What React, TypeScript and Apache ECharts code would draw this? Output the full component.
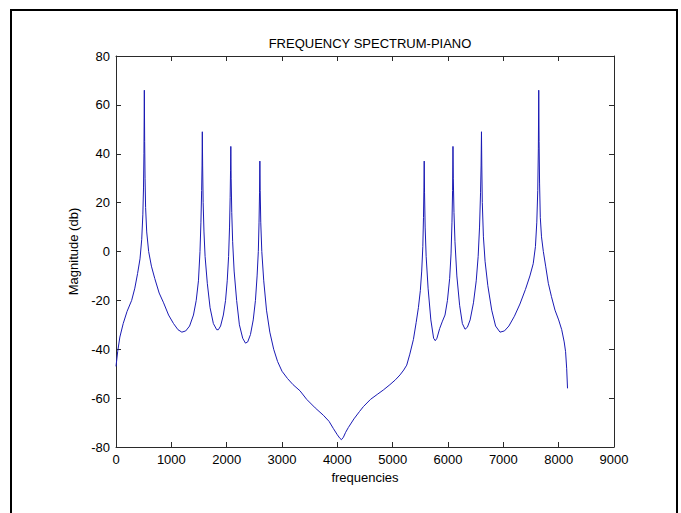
import React, { useEffect, useRef } from "react";
import * as echarts from "echarts";

const TITLE = "FREQUENCY SPECTRUM-PIANO";
const X_NAME = "frequencies";
const Y_NAME = "Magnitude (db)";

const frequencies: number[] = [
  0, 30, 70, 130, 200, 283, 340, 390, 434, 465, 485, 497, 505, 512, 518, 525, 535, 555, 590, 640,
  700, 780, 860, 950, 1040, 1120, 1190, 1260, 1330, 1400, 1450, 1490, 1518, 1535, 1548, 1555, 1560, 1566, 1575, 1590,
  1610, 1650, 1700, 1760, 1820, 1850, 1890, 1940, 1980, 2010, 2035, 2052, 2063, 2070, 2075, 2081, 2092, 2108, 2135, 2180,
  2230, 2290, 2340, 2380, 2430, 2480, 2520, 2550, 2572, 2585, 2594, 2600, 2606, 2616, 2635, 2670, 2720, 2780, 2850, 2920,
  3000, 3100, 3200, 3325, 3446, 3600, 3747, 3850, 3930, 4000, 4048, 4075, 4110, 4150, 4200, 4300, 4400, 4470, 4600, 4720,
  4830, 4950, 5050, 5133, 5200, 5254, 5310, 5375, 5425, 5465, 5500, 5525, 5545, 5557, 5565, 5570, 5576, 5587, 5605, 5640,
  5690, 5740, 5770, 5800, 5850, 5900, 5946, 5990, 6030, 6055, 6072, 6083, 6090, 6096, 6108, 6126, 6160, 6210, 6260, 6308,
  6350, 6400, 6460, 6510, 6545, 6570, 6588, 6598, 6605, 6611, 6620, 6640, 6670, 6720, 6790, 6860, 6940, 7020, 7100, 7200,
  7300, 7400, 7480, 7540, 7580, 7605, 7622, 7633, 7640, 7646, 7655, 7668, 7690, 7723, 7765, 7813, 7870, 7934, 8000, 8055,
  8100, 8125, 8145, 8160,
];

const magnitudes: number[] = [
  -47, -41, -35, -29.5, -24.5, -20, -15, -9, -3, 5, 15, 26, 40, 66, 45, 30, 18, 8, 0, -6,
  -11, -17, -21, -26, -29.5, -32, -33, -32.5, -30.5, -26, -20, -12, 0, 12, 25, 35, 49, 35, 20, 8,
  -2, -13, -23, -29.5, -32, -32, -30.5, -26, -20, -12, -2, 10, 22, 33, 43, 30, 16, 4, -8, -20,
  -30, -35.5, -37.5, -37, -34, -28, -20, -10, 0, 12, 24, 37, 25, 12, 0, -12, -24, -33, -40, -45,
  -49, -52, -54.5, -57, -60.5, -64, -67, -69.5, -72.5, -75, -76.5, -77, -76, -74, -72, -68.5, -65.5, -63.5, -60.5, -58.5,
  -56.7, -54.5, -52.5, -50.5, -48.5, -46.5, -42, -36, -29, -23, -16, -8, 2, 14, 26, 37, 24, 10, -2, -15,
  -28, -35.5, -36.5, -35.5, -31.5, -28.5, -26, -20, -11, -1, 12, 25, 43, 30, 16, 4, -10, -22, -29.5, -31.8,
  -31, -28, -21, -12, -2, 10, 24, 35, 49, 35, 20, 6, -4, -14, -24, -30.5, -33, -32.5, -30.5, -26.5,
  -21.5, -15.5, -10, -5, 2, 12, 25, 42, 66, 45, 28, 14, 6, 0, -6, -13, -18.5, -24, -28, -32,
  -37, -41, -48, -56,
];

const X_MIN = 0;
const X_MAX = 9000;
const X_STEP = 1000;
const Y_MIN = -80;
const Y_MAX = 80;
const Y_STEP = 20;

export default function App() {
  const ref = useRef<HTMLDivElement>(null);

  useEffect(() => {
    if (!ref.current) return;
    const chart = echarts.init(ref.current, undefined, { renderer: "svg" });
    const font = "'Liberation Sans', Arial, Helvetica, sans-serif";
    const axisColor = "#2a2a2a";
    const tick = { show: true, inside: true, length: 5, lineStyle: { color: axisColor, width: 1 } };
    const line = { show: true, onZero: false, lineStyle: { color: axisColor, width: 1 } };
    const label = { color: "#000", fontFamily: font, fontSize: 13 };
    const plain = (v: number) => String(v);

    chart.setOption({
      animation: false,
      backgroundColor: "#fff",
      title: {
        text: TITLE,
        left: 365,
        textAlign: "center",
        top: 32,
        textStyle: { fontFamily: font, fontSize: 13, fontWeight: "normal", color: "#000" },
      },
      graphic: [
        {
          type: "rect",
          shape: { x: 11, y: 10, width: 666, height: 520 },
          style: { fill: "none", stroke: "#000", lineWidth: 2 },
          silent: true,
        },
      ],
      grid: { left: 116, right: 67, top: 56, bottom: 66, containLabel: false },
      xAxis: [
        {
          type: "value",
          min: X_MIN,
          max: X_MAX,
          interval: X_STEP,
          position: "bottom",
          name: X_NAME,
          nameLocation: "middle",
          nameGap: 24,
          nameTextStyle: { ...label, verticalAlign: "top" },
          axisLine: line,
          axisTick: tick,
          axisLabel: { ...label, margin: 6, formatter: plain },
          splitLine: { show: false },
        },
        {
          type: "value",
          min: X_MIN,
          max: X_MAX,
          interval: X_STEP,
          position: "top",
          axisLine: line,
          axisTick: tick,
          axisLabel: { show: false },
          splitLine: { show: false },
        },
      ],
      yAxis: [
        {
          type: "value",
          min: Y_MIN,
          max: Y_MAX,
          interval: Y_STEP,
          position: "left",
          name: Y_NAME,
          nameLocation: "middle",
          nameGap: 36,
          nameRotate: 90,
          nameTextStyle: label,
          axisLine: line,
          axisTick: tick,
          axisLabel: { ...label, margin: 6, formatter: plain },
          splitLine: { show: false },
        },
        {
          type: "value",
          min: Y_MIN,
          max: Y_MAX,
          interval: Y_STEP,
          position: "right",
          axisLine: line,
          axisTick: tick,
          axisLabel: { show: false },
          splitLine: { show: false },
        },
      ],
      series: [
        {
          type: "line",
          xAxisIndex: 0,
          yAxisIndex: 0,
          data: frequencies.map((f, i) => [f, magnitudes[i]]),
          showSymbol: false,
          symbol: "none",
          lineStyle: { color: "#1a1ab4", width: 1 },
          silent: true,
        },
      ],
    });

    return () => chart.dispose();
  }, []);

  return (
    <div
      ref={ref}
      style={{ position: "fixed", left: 0, top: 0, width: 681, height: 513, background: "#fff" }}
    />
  );
}
